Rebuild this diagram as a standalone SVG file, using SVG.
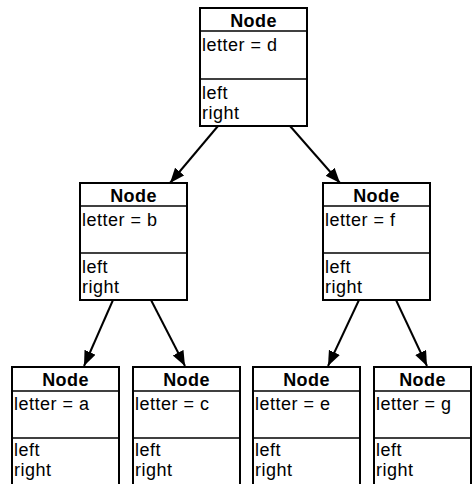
<svg xmlns="http://www.w3.org/2000/svg" width="472" height="484" viewBox="0 0 472 484">
  <style>
    .box { fill: #ffffff; stroke: #000000; stroke-width: 2; }
    .sep { stroke: #000000; stroke-width: 1.5; }
    .title { font-family: "Liberation Sans", Arial, sans-serif; font-size: 18px; font-weight: bold; text-anchor: middle; letter-spacing: 0.4px; fill: #000; }
    .field { font-family: "Liberation Sans", Arial, sans-serif; font-size: 18px; letter-spacing: 0.5px; fill: #000; }
    .edge { stroke: #000000; stroke-width: 2; fill: none; marker-end: url(#arrow); }
  </style>
  <defs>
    <marker id="arrow" markerUnits="userSpaceOnUse" markerWidth="16" markerHeight="14" refX="15" refY="6" orient="auto">
      <path d="M0,0 L15,6 L0,12 Z" fill="#000"/>
    </marker>
  </defs>
  <rect width="472" height="484" fill="#ffffff"/>

  <g id="connectors">
    <line class="edge" x1="218" y1="126" x2="170" y2="183"/>
    <line class="edge" x1="290" y1="126" x2="340" y2="183"/>
    <line class="edge" x1="113" y1="300" x2="84" y2="366"/>
    <line class="edge" x1="151" y1="300" x2="185" y2="366"/>
    <line class="edge" x1="359" y1="300" x2="328" y2="366"/>
    <line class="edge" x1="396" y1="300" x2="427" y2="366"/>
  </g>

  <g id="node-d" transform="translate(200,8)">
    <rect class="box" x="0" y="0" width="107" height="118"/>
    <line class="sep" x1="0" y1="23" x2="107" y2="23"/>
    <line class="sep" x1="0" y1="71" x2="107" y2="71"/>
    <text class="title" x="53.5" y="19">Node</text>
    <text class="field" x="2" y="43">letter = d</text>
    <text class="field" x="2" y="91">left</text>
    <text class="field" x="2" y="111">right</text>
  </g>

  <g id="node-b" transform="translate(80,183)">
    <rect class="box" x="0" y="0" width="107" height="117"/>
    <line class="sep" x1="0" y1="23" x2="107" y2="23"/>
    <line class="sep" x1="0" y1="70" x2="107" y2="70"/>
    <text class="title" x="53.5" y="19">Node</text>
    <text class="field" x="2" y="43">letter = b</text>
    <text class="field" x="2" y="90">left</text>
    <text class="field" x="2" y="110">right</text>
  </g>

  <g id="node-f" transform="translate(323,183)">
    <rect class="box" x="0" y="0" width="107" height="117"/>
    <line class="sep" x1="0" y1="23" x2="107" y2="23"/>
    <line class="sep" x1="0" y1="70" x2="107" y2="70"/>
    <text class="title" x="53.5" y="19">Node</text>
    <text class="field" x="2" y="43">letter = f</text>
    <text class="field" x="2" y="90">left</text>
    <text class="field" x="2" y="110">right</text>
  </g>

  <g id="node-a" transform="translate(12,367)">
    <rect class="box" x="0" y="0" width="107" height="120"/>
    <line class="sep" x1="0" y1="24" x2="107" y2="24"/>
    <line class="sep" x1="0" y1="71" x2="107" y2="71"/>
    <text class="title" x="53.5" y="19">Node</text>
    <text class="field" x="2" y="43">letter = a</text>
    <text class="field" x="2" y="89">left</text>
    <text class="field" x="2" y="109">right</text>
  </g>

  <g id="node-c" transform="translate(133,367)">
    <rect class="box" x="0" y="0" width="107" height="120"/>
    <line class="sep" x1="0" y1="24" x2="107" y2="24"/>
    <line class="sep" x1="0" y1="71" x2="107" y2="71"/>
    <text class="title" x="53.5" y="19">Node</text>
    <text class="field" x="2" y="43">letter = c</text>
    <text class="field" x="2" y="89">left</text>
    <text class="field" x="2" y="109">right</text>
  </g>

  <g id="node-e" transform="translate(253,367)">
    <rect class="box" x="0" y="0" width="107" height="120"/>
    <line class="sep" x1="0" y1="24" x2="107" y2="24"/>
    <line class="sep" x1="0" y1="71" x2="107" y2="71"/>
    <text class="title" x="53.5" y="19">Node</text>
    <text class="field" x="2" y="43">letter = e</text>
    <text class="field" x="2" y="89">left</text>
    <text class="field" x="2" y="109">right</text>
  </g>

  <g id="node-g" transform="translate(374,367)">
    <rect class="box" x="0" y="0" width="97" height="120"/>
    <line class="sep" x1="0" y1="24" x2="97" y2="24"/>
    <line class="sep" x1="0" y1="71" x2="97" y2="71"/>
    <text class="title" x="48.5" y="19">Node</text>
    <text class="field" x="2" y="43">letter = g</text>
    <text class="field" x="2" y="89">left</text>
    <text class="field" x="2" y="109">right</text>
  </g>
</svg>
